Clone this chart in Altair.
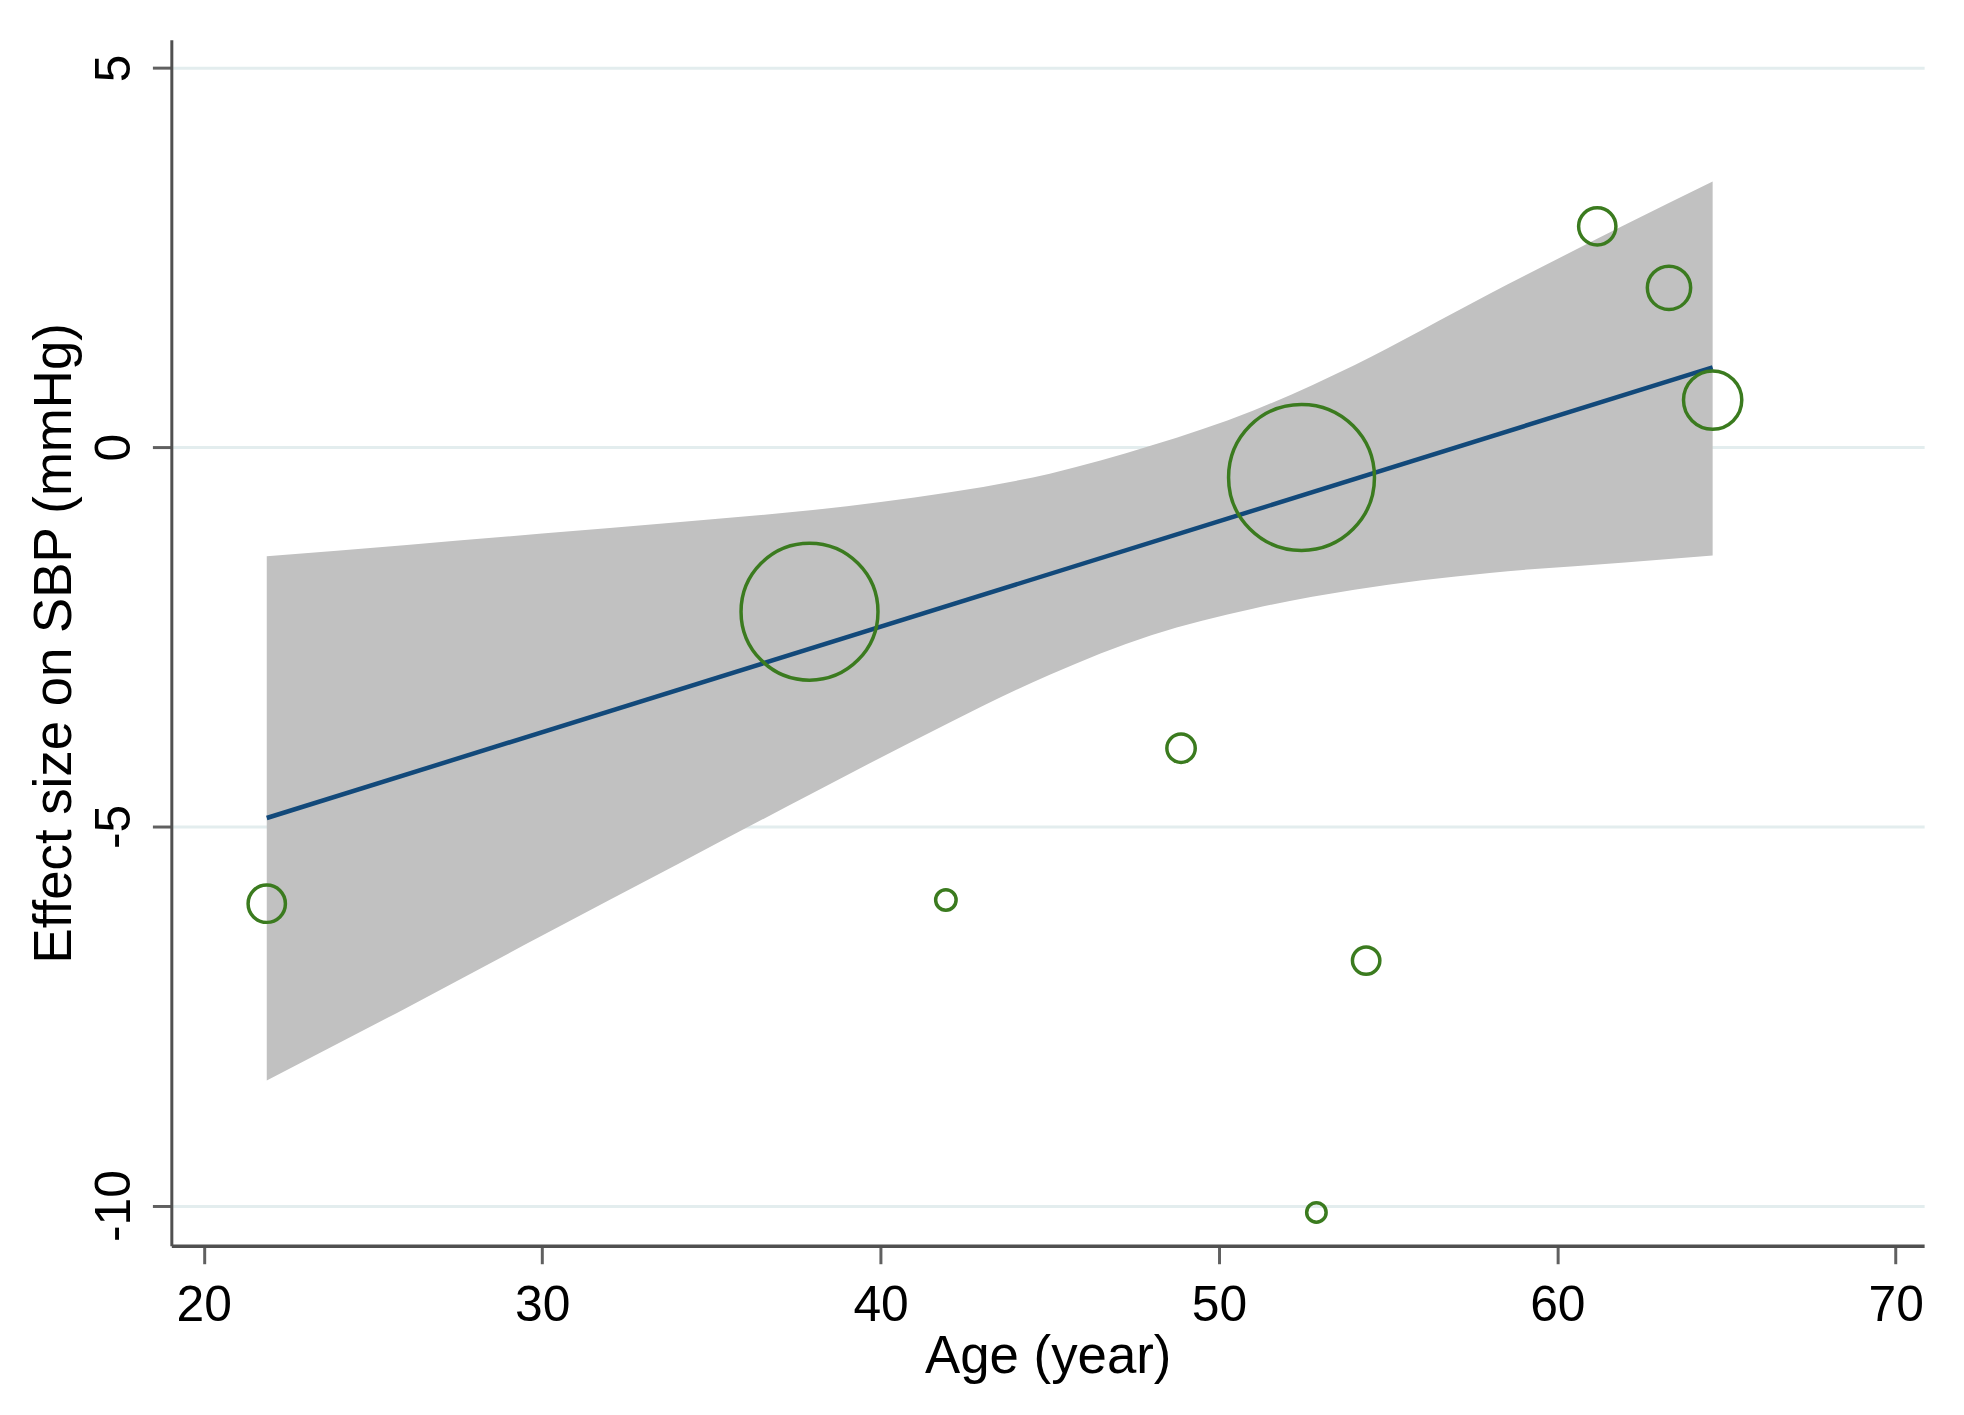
import altair as alt
import pandas as pd

# Study-level points (meta-regression bubble plot)
age = [21.86, 37.90, 41.93, 48.88, 52.44, 52.88, 54.35, 61.18, 63.30, 64.59]
effect = [-6.02, -2.17, -5.97, -3.97, -0.40, -10.09, -6.77, 2.91, 2.10, 0.62]
weight = [2.76, 37.17, 0.83, 1.60, 42.20, 0.75, 1.49, 2.76, 3.72, 6.73]

# Fitted line end points
fit_age = [21.86, 64.59]
fit_effect = [-4.89, 1.05]

# Confidence band
ci_age = [21.86, 26, 30, 34, 38, 42, 45, 48, 51, 54, 58, 62, 64.59]
ci_upper = [-1.44, -1.29, -1.14, -0.99, -0.83, -0.60, -0.35, 0.02, 0.48, 1.08, 2.02, 2.93, 3.50]
ci_lower = [-8.35, -7.39, -6.44, -5.50, -4.56, -3.64, -3.00, -2.48, -2.13, -1.88, -1.66, -1.52, -1.43]

x_ticks = [20, 30, 40, 50, 60, 70]
y_ticks = [-10, -5, 0, 5]

points = pd.DataFrame({"age": age, "effect": effect, "weight": weight})
band = pd.DataFrame({"age": ci_age, "upper": ci_upper, "lower": ci_lower})
fit = pd.DataFrame({"age": fit_age, "effect": fit_effect})

W, H = 1760, 1211
FONT = "Liberation Sans"

xscale = alt.Scale(domain=[19.04, 70.84], nice=False, zero=False)
yscale = alt.Scale(domain=[-10.53, 5.37], nice=False, zero=False)

xaxis = alt.Axis(
    title="Age (year)", values=x_ticks, grid=False,
    labelExpr="'' + datum.value",
    domainColor="#505050", domainWidth=3.5,
    tickColor="#606060", tickWidth=3, tickSize=18,
    labelPadding=17, labelFontSize=50, labelFont=FONT, labelColor="#000000",
    labelFlush=False, labelOverlap=False,
    titleFontSize=53, titleFont=FONT, titleFontWeight="normal", titleColor="#000000",
    titleBaseline="alphabetic", titleAlign="center", titleX=W / 2, titleY=127,
)
yaxis = alt.Axis(
    title="Effect size on SBP (mmHg)", values=y_ticks, grid=True,
    labelExpr="'' + datum.value",
    gridColor="#e3edee", gridWidth=3,
    domainColor="#505050", domainWidth=3,
    tickColor="#606060", tickWidth=3, tickSize=19,
    labelAngle=270, labelAlign="center", labelBaseline="alphabetic",
    labelPadding=23, labelFontSize=50, labelFont=FONT, labelColor="#000000",
    labelFlush=False, labelOverlap=False,
    titleFontSize=53, titleFont=FONT, titleFontWeight="normal", titleColor="#000000",
    titleAngle=270, titleBaseline="alphabetic", titleAlign="center",
    titleX=-101, titleY=H / 2,
)

band_layer = alt.Chart(band).mark_area(color="#c1c1c1", opacity=1, interpolate="monotone").encode(
    x=alt.X("age:Q", scale=xscale, axis=xaxis),
    y=alt.Y("upper:Q", scale=yscale, axis=yaxis),
    y2=alt.Y2("lower:Q"),
)

fit_layer = alt.Chart(fit).mark_line(color="#12497a", strokeWidth=4.5).encode(
    x=alt.X("age:Q", scale=xscale, axis=xaxis),
    y=alt.Y("effect:Q", scale=yscale, axis=yaxis),
)

point_layer = alt.Chart(points).mark_point(
    shape="circle", filled=False, strokeWidth=3.5, color="#3b7b1f", opacity=1
).encode(
    x=alt.X("age:Q", scale=xscale, axis=xaxis),
    y=alt.Y("effect:Q", scale=yscale, axis=yaxis),
    size=alt.Size("weight:Q", scale=alt.Scale(domain=[0, 100], range=[0, 50862]), legend=None),
)

chart = alt.layer(band_layer, fit_layer, point_layer).properties(
    width=W,
    height=H,
    padding={"left": 164, "top": 29, "right": 32, "bottom": 166},
    autosize=alt.AutoSizeParams(type="none"),
    background="#ffffff",
).configure_view(stroke=None)

chart.save("out.html", embed_options={"renderer": "svg", "actions": False})
